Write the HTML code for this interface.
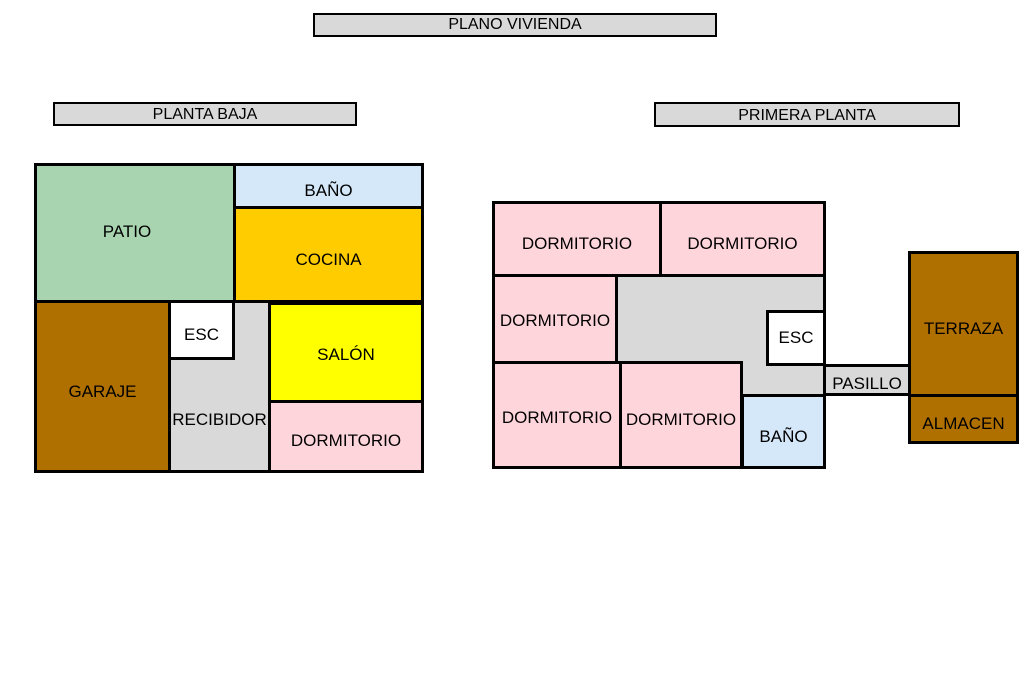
<!DOCTYPE html>
<html><head><meta charset="utf-8"><style>
body{margin:0;width:1024px;height:682px;background:#fff;position:relative;overflow:hidden;font-family:"Liberation Sans",Arial,sans-serif;}
.b{position:absolute;box-sizing:border-box;border:3px solid #000;display:flex;align-items:center;justify-content:center;font-size:17px;color:#000;white-space:nowrap;}
.t{position:absolute;box-sizing:border-box;border:2px solid #000;background:#d9d9d9;display:flex;align-items:center;justify-content:center;font-size:16px;}
.g{background:#d9d9d9}.p{background:#ffd5dc}.w{background:#fff}
</style></head><body>
<div class="t" style="left:313px;top:13px;width:404px;height:24px;">PLANO VIVIENDA</div>
<div class="t" style="left:53px;top:102px;width:304px;height:24px;padding-top:2px">PLANTA BAJA</div>
<div class="t" style="left:654px;top:102px;width:306px;height:25px;padding-top:2px">PRIMERA PLANTA</div>

<div class="b" style="left:34px;top:163px;width:202px;height:140px;background:#a8d5b0;padding-bottom:2px;padding-right:16px">PATIO</div>
<div class="b" style="left:233px;top:163px;width:191px;height:46px;background:#d4e8fa;padding-top:10px">BAÑO</div>
<div class="b" style="left:233px;top:206px;width:191px;height:97px;background:#ffcc00;padding-top:10px">COCINA</div>
<div class="b g" style="left:168px;top:300px;width:103px;height:173px;padding-top:66px">RECIBIDOR</div>
<div class="b" style="left:34px;top:300px;width:137px;height:173px;background:#b07000;padding-top:10px">GARAJE</div>
<div class="b w" style="left:168px;top:300px;width:67px;height:60px;padding-top:10px">ESC</div>
<div class="b" style="left:268px;top:302px;width:156px;height:101px;background:#ffff00;padding-top:4px">SALÓN</div>
<div class="b p" style="left:268px;top:400px;width:156px;height:73px;padding-top:8px">DORMITORIO</div>

<div class="b g" style="left:615px;top:274px;width:211px;height:123px"></div>
<div class="b p" style="left:492px;top:201px;width:170px;height:76px;padding-top:10px">DORMITORIO</div>
<div class="b p" style="left:659px;top:201px;width:167px;height:76px;padding-top:10px">DORMITORIO</div>
<div class="b p" style="left:492px;top:274px;width:126px;height:90px;padding-top:4px">DORMITORIO</div>
<div class="b w" style="left:766px;top:310px;width:60px;height:56px">ESC</div>
<div class="b p" style="left:492px;top:361px;width:130px;height:108px;padding-top:6px">DORMITORIO</div>
<div class="b p" style="left:619px;top:361px;width:124px;height:108px;padding-top:10px">DORMITORIO</div>
<div class="b" style="left:741px;top:394px;width:85px;height:75px;background:#d4e8fa;padding-top:10px">BAÑO</div>
<div class="b g" style="left:823px;top:364px;width:88px;height:32px;padding-top:8px">PASILLO</div>
<div class="b" style="left:908px;top:251px;width:111px;height:146px;background:#b07000;padding-top:10px">TERRAZA</div>
<div class="b" style="left:908px;top:394px;width:111px;height:50px;background:#b07000;padding-top:10px">ALMACEN</div>
</body></html>
